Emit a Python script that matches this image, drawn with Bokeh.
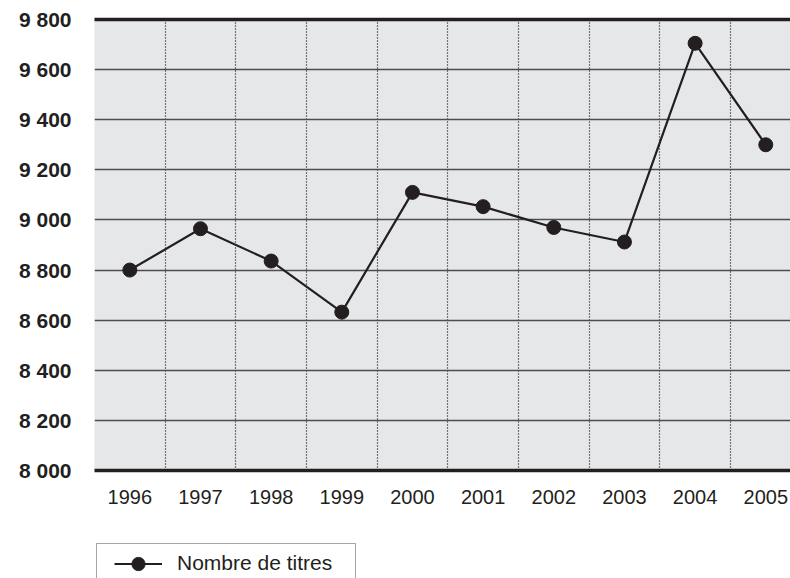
from bokeh.plotting import figure
from bokeh.models import Range1d, FixedTicker, LinearAxis, Legend, LegendItem
from bokeh.layouts import column
from bokeh.embed import file_html
from bokeh.resources import INLINE

years = [1996, 1997, 1998, 1999, 2000, 2001, 2002, 2003, 2004, 2005]
titles = [8800, 8965, 8836, 8632, 9110, 9053, 8970, 8912, 9705, 9300]
y_ticks = [8000, 8200, 8400, 8600, 8800, 9000, 9200, 9400, 9600, 9800]
y_tick_labels = ["8 000", "8 200", "8 400", "8 600", "8 800", "9 000", "9 200", "9 400", "9 600", "9 800"]
x_tick_labels = [str(y) for y in years]
series_name = "Nombre de titres"

INK = "#231f20"
FONT = "Liberation Sans"

p = figure(width=790, height=530, output_backend="svg", toolbar_location=None,
           x_range=Range1d(years[0] - 0.5, years[-1] + 0.35),
           y_range=Range1d(y_ticks[0], y_ticks[-1]),
           min_border_left=94, min_border_right=0, min_border_top=19, min_border_bottom=60)
p.background_fill_color = "#e6e7e8"
p.border_fill_color = "white"
p.outline_line_color = None

# grids
p.xgrid.ticker = FixedTicker(ticks=[y - 0.5 for y in years])
p.xgrid.grid_line_color = "black"
p.xgrid.grid_line_dash = "1 2"
p.xgrid.grid_line_width = 1.2
p.ygrid.ticker = FixedTicker(ticks=y_ticks)
p.ygrid.grid_line_color = "#4d4d4f"
p.ygrid.grid_line_width = 1.6

# x axis
xa = p.xaxis[0]
xa.ticker = FixedTicker(ticks=years)
xa.major_label_overrides = {y: s for y, s in zip(years, x_tick_labels)}
xa.axis_line_color = INK
xa.axis_line_width = 3.5
xa.major_tick_in = 0
xa.major_tick_out = 0
xa.minor_tick_in = 0
xa.minor_tick_out = 0
xa.major_label_standoff = 19
xa.major_label_text_font = FONT
xa.major_label_text_font_size = "20px"
xa.major_label_text_color = INK

# y axis
ya = p.yaxis[0]
ya.ticker = FixedTicker(ticks=y_ticks)
ya.major_label_overrides = {v: s for v, s in zip(y_ticks, y_tick_labels)}
ya.axis_line_color = None
ya.major_tick_in = 0
ya.major_tick_out = 0
ya.minor_tick_in = 0
ya.minor_tick_out = 0
ya.major_label_standoff = 23
ya.major_label_text_font = FONT
ya.major_label_text_font_style = "bold"
ya.major_label_text_font_size = "21px"
ya.major_label_text_color = INK

# top thick line
top = LinearAxis(ticker=FixedTicker(ticks=[]), major_label_text_font_size="0px",
                 axis_line_color=INK, axis_line_width=3.5,
                 major_tick_in=0, major_tick_out=0, minor_tick_in=0, minor_tick_out=0)
p.add_layout(top, "above")

# data
ln = p.line(years, titles, line_color=INK, line_width=2.2)
sc = p.scatter(years, titles, size=14, fill_color=INK, line_color=INK)

# legend strip below the chart (its frame is aligned with the chart's frame)
lg = figure(width=790, height=48, output_backend="svg", toolbar_location=None,
            x_range=Range1d(0, 1), y_range=Range1d(0, 1),
            x_axis_type=None, y_axis_type=None,
            min_border_left=94, min_border_right=0, min_border_top=0, min_border_bottom=0)
lg.outline_line_color = None
lg.background_fill_color = "white"
lg.border_fill_color = "white"
lg.xgrid.visible = False
lg.ygrid.visible = False

# same series, out of this strip's view: used only for the legend glyph
ghost = lg.line(years, titles, line_alpha=0)
lln = lg.line(years, titles, line_color=INK, line_width=2.2)
lsc = lg.scatter(years, titles, size=14, fill_color=INK, line_color=INK)

box = Legend(items=[LegendItem(label="", renderers=[ghost])],
             location=(2, -8), padding=0, margin=0, spacing=0,
             glyph_width=258, glyph_height=41, label_standoff=0, label_width=0,
             label_text_font_size="1px",
             border_line_color="#4d4d4f", border_line_width=1.5,
             background_fill_color="white", background_fill_alpha=1)
lg.add_layout(box, "center")

content = Legend(items=[LegendItem(label=series_name, renderers=[lln, lsc])],
                 location=(20, -1.5), padding=0, margin=0, spacing=0,
                 glyph_width=48, glyph_height=33, label_standoff=15,
                 label_text_font=FONT, label_text_font_size="21px", label_text_color=INK,
                 border_line_color=None, background_fill_alpha=0)
lg.add_layout(content, "center")

layout = column(p, lg, spacing=0)
open("out.html", "w").write(file_html(layout, INLINE))
